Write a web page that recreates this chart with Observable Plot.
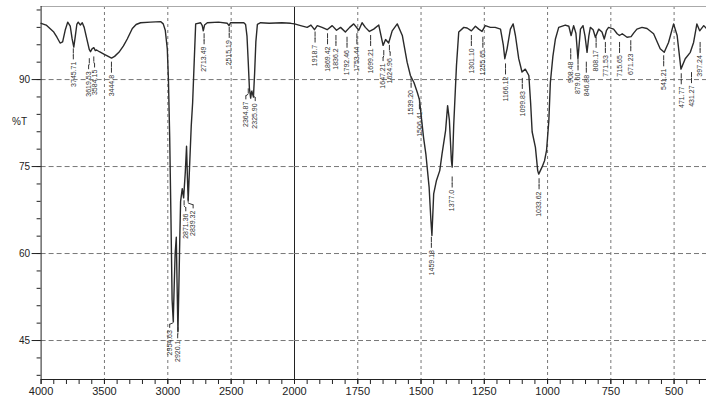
<!DOCTYPE html>
<html>
<head>
<meta charset="utf-8">
<script src="https://cdn.jsdelivr.net/npm/d3@7"></script>
<script src="https://cdn.jsdelivr.net/npm/@observablehq/plot@0.6"></script>
<style>
  html, body { margin: 0; padding: 0; background: #fff; }
  #chart { display: flex; width: 706px; height: 400px; }
  #chart svg { display: block; overflow: visible; }
</style>
</head>
<body>
<div id="chart"></div>
<script>
// Spectrum (wavenumber cm-1, %T)
const wavenumber = [
  4000, 3960, 3930, 3900, 3875, 3850, 3830, 3810, 3790, 3770, 3755, 3742, 3730, 3718, 3707,
  3690, 3675, 3660, 3636, 3620, 3610, 3598, 3584, 3572, 3562, 3540, 3505, 3470, 3444, 3420,
  3386, 3350, 3320, 3280, 3250, 3215, 3136, 3057, 3036, 3020, 3004, 2995, 2985, 2975, 2966,
  2957, 2950, 2942, 2933, 2927, 2920, 2912, 2905, 2899, 2886, 2875, 2862, 2852, 2845, 2839,
  2830, 2815, 2804, 2790, 2780, 2741, 2728, 2720, 2710, 2688, 2600, 2530, 2517, 2505, 2400,
  2386, 2375, 2365, 2356, 2346, 2338, 2330, 2324, 2315, 2305, 2293, 2267, 2200, 2100, 2030,
  2000, 1976, 1950, 1935, 1921, 1910, 1891, 1871, 1851, 1834, 1818, 1799, 1782, 1766, 1746,
  1733, 1720, 1704, 1687, 1667, 1650, 1640, 1628, 1614, 1594, 1574, 1555, 1542, 1528, 1515,
  1506, 1501, 1490, 1481, 1468, 1461, 1457, 1450, 1439, 1426, 1417, 1403, 1395, 1388, 1380,
  1377, 1374, 1371, 1360, 1351, 1331, 1318, 1301, 1285, 1272, 1259, 1246, 1226, 1207, 1186,
  1175, 1169, 1160, 1147, 1136, 1127, 1114, 1101, 1088, 1074, 1067, 1061, 1048, 1039, 1035,
  1022, 1012, 1004, 995, 989, 979, 969, 956, 930, 916, 907, 897, 888, 880, 870,
  860, 852, 844, 837, 831, 820, 811, 798, 785, 776, 767, 759, 739, 725, 716,
  705, 686, 670, 660, 647, 627, 607, 581, 555, 539, 522, 502, 488, 473, 456,
  436, 430, 423, 410, 399, 383, 372
];
const transmittance = [
  99.7, 99.4, 98.8, 98.2, 97.3, 96.3, 96.5, 98.5, 99.9, 99.2, 97.0, 95.6, 97.5, 99.5, 99.9,
  99.4, 99.8, 99.0, 96.7, 95.2, 94.8, 95.3, 95.5, 95.0, 95.1, 94.8, 94.4, 94.0, 93.7, 94.0,
  94.7, 95.8, 97.0, 98.8, 99.5, 99.8, 99.9, 100.0, 99.6, 98.5, 95.3, 90.0, 80.0, 66.0, 52.0,
  48.3, 54.0, 60.0, 62.8, 55.0, 46.6, 55.0, 63.0, 69.0, 71.2, 69.6, 74.0, 78.5, 73.0, 69.2,
  74.0, 82.0, 86.0, 94.0, 99.6, 99.8, 99.3, 98.4, 99.4, 99.8, 99.9, 99.7, 99.3, 99.8, 99.8,
  99.5, 97.5, 93.0, 88.5, 86.8, 88.0, 87.5, 87.0, 91.0, 96.5, 99.5, 99.8, 99.7, 99.8, 99.7,
  99.6, 99.3, 99.0, 99.4, 98.6, 99.3, 99.0, 98.6, 99.3, 98.5, 99.0, 98.2, 99.0, 99.6, 98.5,
  99.8, 99.0, 98.3, 98.7, 99.4, 95.9, 96.9, 96.3, 98.4, 99.6, 97.6, 93.0, 90.7, 89.5, 87.8,
  86.5, 84.4, 80.0, 77.2, 71.4, 65.7, 63.1, 70.3, 72.6, 74.3, 77.2, 81.2, 85.5, 83.0, 76.0,
  74.9, 78.0, 82.0, 92.4, 98.2, 99.0, 98.9, 98.4, 99.2, 98.7, 98.3, 99.3, 99.0, 99.0, 98.7,
  96.0, 93.6, 95.3, 98.7, 99.6, 97.6, 93.6, 91.3, 91.8, 90.7, 86.0, 81.0, 78.3, 74.3, 73.7,
  74.9, 76.0, 77.8, 82.9, 89.5, 94.0, 97.0, 99.0, 99.4, 99.2, 97.6, 99.3, 98.0, 93.6, 98.7,
  99.3, 97.5, 94.7, 97.5, 99.0, 98.6, 97.3, 98.7, 98.2, 97.0, 98.5, 99.0, 98.7, 97.9, 97.6,
  97.9, 97.3, 97.4, 98.0, 98.7, 99.0, 98.8, 97.9, 95.3, 94.7, 96.4, 99.6, 97.6, 91.8, 93.6,
  94.7, 95.5, 96.4, 99.6, 98.4, 99.3, 98.8
];

// Peak annotations: label text, the %T where each leader starts,
// and the wavenumber under which the (crowded) label text is set
const peakLabels = [
  "3745.71", "3619.53", "3584.15", "3444.8", "2954.63", "2920.1", "2871.36", "2839.32",
  "2713.49", "2515.19", "2364.87", "2325.90",
  "1918.7", "1869.42", "1836.2", "1792.46", "1753.44", "1699.21", "1647.21", "1624.96",
  "1539.20", "1506.41", "1459.18", "1377.0", "1301.10", "1255.65", "1166.12", "1099.83",
  "1033.62", "908.48", "879.60", "846.88", "808.17", "771.53", "715.65", "671.23",
  "541.21", "471.77", "431.27", "397.24"
];
const peakLeaderTop = [
  95.3, 93.6, 93.9, 93.0, 49.0, 47.2, 69.1, 69.6,
  97.9, 99.0, 88.4, 88.1,
  98.2, 97.9, 97.6, 97.3, 97.9, 97.6, 95.0, 95.9,
  90.4, 86.7, 62.8, 73.2, 97.6, 97.3, 92.7, 90.2,
  72.9, 95.3, 93.4, 93.0, 97.3, 96.4, 96.4, 96.7,
  94.1, 91.0, 91.2, 96.4
];
const peakLabelAt = [
  3745.71, 3625, 3578, 3444.8, 2985, 2922, 2858, 2800,
  2713.49, 2515.19, 2384, 2310,
  1918.7, 1869.42, 1836.2, 1792.46, 1753.44, 1699.21, 1650, 1622,
  1539.20, 1506.41, 1459.18, 1377.0, 1301.10, 1255.65, 1166.12, 1099.83,
  1033.62, 908.48, 879.60, 846.88, 808.17, 771.53, 715.65, 671.23,
  541.21, 471.77, 431.27, 397.24
];

// The wavenumber axis is split at 2000 cm-1 (left and right halves use different scales)
const xTickLabelsLeft = [4000, 3500, 3000, 2500, 2000];
const xTickLabelsRight = [1750, 1500, 1250, 1000, 750, 500];
const xGridLeft = [3500, 3000, 2500];
const xGridRight = [1750, 1500, 1250, 1000, 750, 500];
const yTickLabels = [90, 75, 60, 45];

const spectrum = wavenumber.map((w, i) => ({w, t: transmittance[i]}));
const peaks = peakLabels.map((label, i) => ({label, w: parseFloat(label), t: peakLeaderTop[i], at: peakLabelAt[i]}));

const yDomain = [38.28, 102.6];
const yMinor = d3.range(39, 103, 3);
const font = "'Liberation Sans', Arial, sans-serif";

function panel({xDomain, width, marginLeft, minorStep, tickLabels, grid, left}) {
  const inRange = w => w <= xDomain[0] && w >= xDomain[1];
  const minor = d3.range(xDomain[0], xDomain[1] - 1, -minorStep);
  const myPeaks = peaks.filter(d => inRange(d.w));
  return Plot.plot({
    width,
    height: 400,
    marginLeft,
    marginRight: 0,
    marginTop: 6,
    marginBottom: 21,
    style: {fontFamily: font, background: "transparent", color: "#222", overflow: "visible"},
    x: {domain: xDomain, axis: null},
    y: {domain: yDomain, axis: null},
    marks: [
      Plot.gridX(grid, {stroke: "#777", strokeOpacity: 1, strokeDasharray: "3,3", strokeWidth: 1}),
      Plot.gridY(yTickLabels, {stroke: "#777", strokeOpacity: 1, strokeDasharray: "5,3", strokeWidth: 1}),
      Plot.ruleY([yDomain[1]], {stroke: "#aaa", strokeWidth: 1}),
      Plot.ruleY([yDomain[0]], {stroke: "#222", strokeWidth: 1}),
      left ? Plot.ruleX([xDomain[0]], {stroke: "#222", strokeWidth: 1}) : null,
      left ? Plot.ruleX([xDomain[1]], {stroke: "#222", strokeWidth: 1}) : null,
      Plot.axisX({ticks: minor, tickSize: 5, tickFormat: () => "", label: null, stroke: "#222"}),
      Plot.axisX({ticks: tickLabels, tickSize: 5, tickPadding: 3, fontSize: 11, label: null, stroke: "#222", tickFormat: d => String(d)}),
      left ? Plot.axisY({ticks: yMinor, tickSize: 4, tickFormat: () => "", label: null, stroke: "#222"}) : null,
      left ? Plot.axisY({ticks: yTickLabels, tickSize: 9, tickPadding: 2, fontSize: 10, label: null, stroke: "#222"}) : null,
      left ? Plot.text(["%T"], {x: xDomain[0], y: 82.8, dx: -29, textAnchor: "start", fontSize: 10, fill: "#222"}) : null,
      Plot.line(spectrum.filter(d => inRange(d.w)), {x: "w", y: "t", stroke: "#2a2a2a", strokeWidth: 1.4}),
      // leader: short vertical stub, then a bend towards where the text sits
      Plot.ruleX(myPeaks, {x: "w", y1: "t", y2: d => d.t - 0.9, stroke: "#333", strokeWidth: 1}),
      Plot.link(myPeaks, {x1: "w", y1: d => d.t - 0.9, x2: "at", y2: d => d.t - 1.2, stroke: "#333", strokeWidth: 1}),
      Plot.ruleX(myPeaks, {x: "at", y1: d => d.t - 1.2, y2: d => d.t - 1.9, stroke: "#333", strokeWidth: 1}),
      Plot.text(myPeaks, {x: "at", y: d => d.t - 2.2, text: "label", rotate: -90, textAnchor: "end", fontSize: 7, fill: "#333"})
    ].filter(Boolean)
  });
}

const root = document.getElementById("chart");
root.appendChild(panel({xDomain: [4000, 2000], width: 294, marginLeft: 40.6, minorStep: 100, tickLabels: xTickLabelsLeft, grid: xGridLeft, left: true}));
root.appendChild(panel({xDomain: [2000, 372], width: 412, marginLeft: 0, minorStep: 50, tickLabels: xTickLabelsRight, grid: xGridRight, left: false}));
</script>
</body>
</html>
